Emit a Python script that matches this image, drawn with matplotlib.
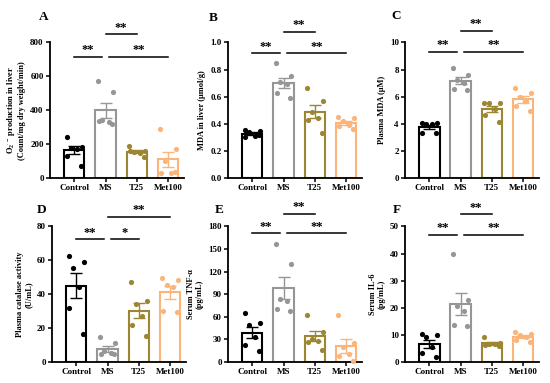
import matplotlib
matplotlib.use("Agg")
import matplotlib.pyplot as plt
import numpy as np

plt.rcParams['font.family'] = ['Liberation Serif', 'DejaVu Serif']
plt.rcParams['font.weight'] = 'bold'
plt.rcParams['mathtext.fontset'] = 'custom'
plt.rcParams['mathtext.rm'] = 'Liberation Serif:bold'
plt.rcParams['mathtext.it'] = 'Liberation Serif:bold'
plt.rcParams['mathtext.bf'] = 'Liberation Serif:bold'

groups = ['Control', 'MS', 'T25', 'Met100']
colors = ['#000000', '#969696', '#9c8632', '#fbb57a']

# ---- data ----
A_vals = [[244, 185, 180, 172, 130, 70],
          [570, 505, 340, 330, 335, 320],
          [190, 160, 155, 150, 158, 125],
          [288, 171, 101, 32, 30, 35]]
B_vals = [[0.355, 0.345, 0.34, 0.31, 0.30, 0.32],
          [0.85, 0.75, 0.71, 0.69, 0.63, 0.59],
          [0.665, 0.57, 0.49, 0.44, 0.43, 0.335],
          [0.45, 0.44, 0.42, 0.39, 0.38, 0.36]]
C_vals = [[4.05, 4.05, 4.0, 3.95, 3.35, 3.35],
          [8.1, 7.6, 7.2, 7.0, 6.6, 6.5],
          [5.55, 5.5, 5.5, 5.1, 4.65, 4.15],
          [6.65, 6.25, 5.95, 5.7, 5.3, 4.95]]
D_vals = [[62.5, 59, 55.5, 44.5, 32, 16.5],
          [14.5, 11, 6.5, 5.5, 5, 4.5],
          [47, 36, 34, 27, 22, 15.5],
          [49.5, 48.5, 45.5, 44, 30, 29.5]]
E_vals = [[65, 52, 49, 33, 22, 14],
          [157, 130, 83, 81, 70, 68],
          [63, 40, 30, 28, 27, 15.5],
          [62, 25, 20, 10, 8, 1]]
F_vals = [[10.5, 9.8, 9.2, 5.5, 3.5, 2.0],
          [39.8, 22.7, 20.8, 18.8, 13.5, 13.1],
          [9.2, 7.0, 6.7, 6.5, 6.1, 5.8],
          [11.0, 10.4, 9.8, 9.2, 8.0, 7.4]]

ylabels = [r"O$_2$$^{\cdot-}$ production in liver" + "\n(Count/mg dry weight/min)",
           "MDA in liver (μmol/g)",
           "Plasma MDA (μM)",
           "Plasma catalase activity\n(U/mL)",
           "Serum TNF-α\n(pg/mL)",
           "Serum IL-6\n(pg/mL)"]
ymax = [800, 1.0, 10, 80, 180, 50]
ystep = [200, 0.2, 2, 20, 30, 10]
tickfmt = ['%d', '%.1f', '%d', '%d', '%d', '%d']
letters = ['A', 'B', 'C', 'D', 'E', 'F']
# significance bar heights (lower, upper)
sig_y = [(717, 847), (0.92, 1.077), (9.29, 10.88), (72.4, 85.7), (170.7, 197), (47, 54.4)]

all_vals = [A_vals, B_vals, C_vals, D_vals, E_vals, F_vals]

fig = plt.figure(figsize=(5.5, 3.83), dpi=100)
lefts = [0.0909, 0.4145, 0.7364, 0.0945, 0.4145, 0.7364]
bottoms = [0.5352, 0.5352, 0.5352, 0.0548, 0.0548, 0.0548]
# panel letter positions (px from top-left)
letter_xy = [(39, 11), (209, 12), (391, 10), (37, 204), (215, 204), (393, 204)]
offs = [-0.25, 0.25, -0.1, 0.1, -0.22, 0.22]

for k in range(6):
    ax = fig.add_axes([lefts[k], bottoms[k], 0.244, 0.354])
    vals = all_vals[k]
    for i, v in enumerate(vals):
        v = np.array(v)
        m = v.mean()
        sem = v.std(ddof=1) / np.sqrt(len(v))
        ax.bar(i, m, width=0.65, facecolor='white', edgecolor=colors[i],
               linewidth=1.5, zorder=2)
        ax.errorbar(i, m, yerr=sem, color=colors[i], capsize=4, capthick=1,
                    elinewidth=1, zorder=3)
        ax.scatter(i + np.array(offs), v, s=14, color=colors[i], zorder=4,
                   linewidths=0, clip_on=False)

    ax.set_xlim(-0.78, 3.52)
    ax.set_ylim(0, ymax[k])
    ax.set_yticks(np.arange(0, ymax[k] + ystep[k] / 2, ystep[k]))
    ax.yaxis.set_major_formatter(matplotlib.ticker.FormatStrFormatter(tickfmt[k]))
    ax.set_xticks(range(4))
    ax.set_xticklabels(groups)
    ax.spines['top'].set_visible(False)
    ax.spines['right'].set_visible(False)
    ax.spines['left'].set_linewidth(1.3)
    ax.spines['bottom'].set_linewidth(1.3)
    ax.tick_params(axis='both', labelsize=6.5, width=1.1, length=3, pad=1.5)
    ax.set_ylabel(ylabels[k], fontsize=6, fontweight='bold', labelpad=3,
                  linespacing=1.1)

    lo, hi = sig_y[k]
    if k == 3:
        bars = [(0, 0.88, lo, '**'), (1.12, 2, lo, '*'), (1, 3, hi, '**')]
    else:
        bars = [(0, 0.88, lo, '**'), (1.12, 3, lo, '**'), (1, 2, hi, '**')]
    for x0, x1, yy, lab in bars:
        ax.plot([x0, x1], [yy, yy], color='black', lw=1.1, clip_on=False)
        ax.text((x0 + x1) / 2, yy + ymax[k] * 0.005, lab, ha='center',
                va='bottom', fontsize=9, fontweight='bold', clip_on=False)

    lx, ly = letter_xy[k]
    fig.text(lx / 550, 1 - ly / 383, letters[k], fontsize=9.5, fontweight='bold',
             ha='left', va='top')

fig.savefig('out.png', dpi=100)
